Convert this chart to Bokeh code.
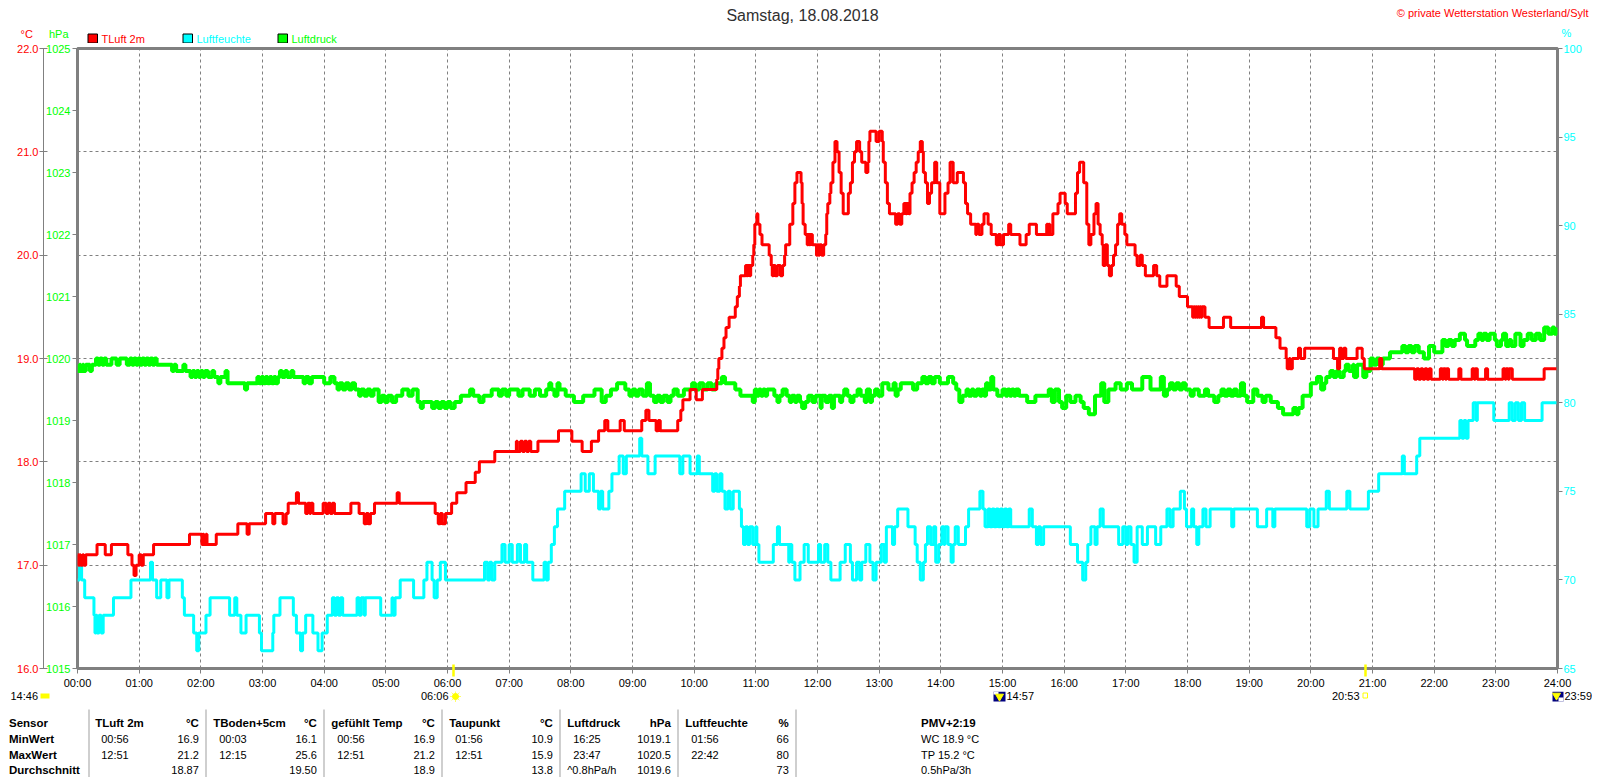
from bokeh.core.properties import value
from bokeh.embed import file_html
from bokeh.layouts import column
from bokeh.models import FixedTicker, Grid, LinearAxis, Range1d, PrintfTickFormatter
from bokeh.plotting import figure
from bokeh.resources import INLINE

TITLE = "Samstag, 18.08.2018"
COPYRIGHT = "\u00a9 private Wetterstation Westerland/Sylt"
HOUR_LABELS = ["%02d:00" % h for h in range(25)]
TEMP_TICKS = [16, 17, 18, 19, 20, 21, 22]
HPA_TICKS = [1015, 1016, 1017, 1018, 1019, 1020, 1021, 1022, 1023, 1024, 1025]
HUM_TICKS = [65, 70, 75, 80, 85, 90, 95, 100]
SUN_MINUTES = [366, 1253]

# (minute of day, value) at each change of the reading
tluft = [
 (0,17.1),(1,17.0),(2,17.1),(3,17.0),(5,17.1),(6,17.0),(8,17.1),(19,17.2),(27,17.1),(33,17.2),(49,17.1),(53,17.0),
 (55,16.9),(57,17.0),(60,17.1),(62,17.0),(64,17.1),(74,17.2),(109,17.3),(121,17.2),(122,17.3),(123,17.2),(125,17.3),
 (126,17.2),(135,17.3),(156,17.4),(165,17.3),(167,17.4),(183,17.5),(190,17.4),(192,17.5),(200,17.4),(203,17.5),
 (205,17.6),(213,17.7),(215,17.6),(222,17.5),(224,17.6),(226,17.5),(227,17.6),(229,17.5),(239,17.6),(242,17.5),
 (244,17.6),(246,17.5),(248,17.6),(250,17.5),(266,17.6),(274,17.5),(279,17.4),(281,17.5),(283,17.4),(285,17.5),
 (289,17.6),(311,17.7),(313,17.6),(348,17.5),(351,17.4),(353,17.5),(355,17.4),(358,17.5),(364,17.6),(369,17.7),
 (378,17.8),(387,17.9),(391,18.0),(406,18.1),(427,18.2),(428,18.1),(431,18.2),(433,18.1),(435,18.2),(437,18.1),
 (439,18.2),(441,18.1),(448,18.2),(468,18.3),(481,18.2),(491,18.1),(500,18.2),(507,18.3),(513,18.4),(516,18.3),
 (528,18.4),(532,18.3),(549,18.4),(553,18.5),(556,18.4),(563,18.3),(565,18.4),(567,18.3),(584,18.4),(587,18.5),
 (589,18.6),(596,18.7),(602,18.6),(608,18.7),(622,18.8),(623,18.9),(624,19.0),(627,19.1),(629,19.2),(631,19.3),
 (634,19.4),(640,19.5),(642,19.6),(644,19.7),(645,19.8),(650,19.9),(651,19.8),(652,19.9),(654,19.8),(655,19.9),
 (657,20.0),(658,20.1),(659,20.3),(661,20.4),(662,20.3),(664,20.2),(666,20.1),(673,20.0),(675,19.9),(676,19.8),
 (677,19.9),(679,19.8),(681,19.9),(684,19.8),(686,19.9),(688,20.0),(689,20.1),(693,20.3),(696,20.5),(698,20.7),
 (700,20.8),(704,20.7),(705,20.5),(706,20.3),(708,20.2),(710,20.1),(711,20.2),(712,20.1),(713,20.2),(715,20.1),
 (719,20.0),(720,20.1),(721,20.0),(722,20.1),(724,20.0),(726,20.1),(728,20.2),(729,20.4),(730,20.5),(732,20.6),
 (733,20.7),(735,20.9),(737,21.1),(739,21.0),(741,20.8),(743,20.6),(745,20.4),(750,20.6),(752,20.7),(754,20.9),
 (756,21.0),(758,21.1),(761,21.0),(763,20.9),(767,20.8),(769,20.9),(770,21.1),(771,21.2),(777,21.1),(780,21.2),
 (783,21.1),(784,20.9),(786,20.7),(788,20.5),(790,20.4),(796,20.3),(798,20.4),(800,20.3),(802,20.4),(804,20.5),
 (806,20.4),(807,20.5),(809,20.4),(810,20.6),(812,20.7),(814,20.8),(816,20.9),(818,21.0),(820,21.1),(822,21.0),
 (823,20.8),(825,20.7),(827,20.5),(829,20.6),(831,20.7),(834,20.9),(836,20.7),(839,20.4),(844,20.6),(847,20.7),
 (849,20.9),(852,20.7),(856,20.8),(862,20.7),(864,20.5),(866,20.4),(869,20.3),(874,20.2),(875,20.3),(877,20.2),
 (880,20.3),(882,20.4),(886,20.3),(889,20.2),(894,20.1),(896,20.2),(898,20.1),(901,20.2),(906,20.3),(908,20.2),
 (917,20.1),(923,20.2),(926,20.3),(933,20.2),(943,20.3),(944,20.2),(945,20.3),(946,20.2),(949,20.4),(954,20.5),
 (956,20.6),(961,20.5),(963,20.4),(971,20.6),(973,20.8),(975,20.9),(979,20.7),(982,20.3),(984,20.1),(986,20.2),
 (989,20.4),(991,20.5),(993,20.3),(995,20.2),(997,20.1),(998,19.9),(1000,20.1),(1002,19.9),(1004,19.8),(1006,19.9),
 (1008,20.0),(1010,20.1),(1012,20.3),(1014,20.4),(1016,20.3),(1019,20.2),(1021,20.1),(1029,20.0),(1031,19.9),
 (1034,20.0),(1036,19.9),(1039,19.8),(1047,19.9),(1050,19.8),(1053,19.7),(1060,19.8),(1069,19.7),(1072,19.6),
 (1080,19.5),(1085,19.4),(1086,19.5),(1087,19.4),(1088,19.5),(1089,19.4),(1090,19.5),(1091,19.4),(1092,19.5),
 (1093,19.4),(1094,19.5),(1097,19.4),(1101,19.3),(1115,19.4),(1122,19.3),(1152,19.4),(1154,19.3),(1166,19.2),
 (1170,19.1),(1176,19.0),(1177,18.9),(1179,19.0),(1180,18.9),(1182,19.0),(1188,19.1),(1190,19.0),(1194,19.1),
 (1222,19.0),(1226,18.9),(1228,19.1),(1230,19.0),(1232,19.1),(1234,19.0),(1245,19.1),(1250,19.0),(1252,18.9),
 (1267,19.0),(1269,18.9),(1301,18.8),(1303,18.9),(1305,18.8),(1307,18.9),(1309,18.8),(1311,18.9),(1313,18.8),
 (1315,18.9),(1317,18.8),(1326,18.9),(1328,18.8),(1329,18.9),(1331,18.8),(1332,18.9),(1334,18.8),(1344,18.9),
 (1346,18.8),(1357,18.9),(1359,18.8),(1360,18.9),(1362,18.8),(1370,18.9),(1372,18.8),(1387,18.9),(1389,18.8),
 (1390,18.9),(1392,18.8),(1393,18.9),(1396,18.8),(1427,18.9),(1439,18.9),
]

feuchte = [
 (0,70),(2,71),(4,70),(7,69),(16,68),(17,67),(18,68),(19,67),(21,68),(23,67),(25,68),(35,69),(52,70),(71,71),(73,70),
 (77,69),(81,70),(87,69),(89,70),(102,69),(104,68),(113,67),(116,66),(118,67),(125,68),(129,69),(148,68),(153,69),
 (155,68),(159,67),(164,68),(177,67),(179,66),(190,67),(191,68),(197,69),(210,68),(213,67),(217,66),(219,67),
 (222,68),(229,67),(234,66),(238,67),(243,68),(248,69),(250,68),(252,69),(254,68),(256,69),(258,68),(261,68),
 (272,69),(274,68),(276,69),(279,68),(280,69),(295,68),(306,69),(307,68),(309,69),(314,70),(327,69),(337,70),
 (340,71),(345,70),(347,69),(350,70),(353,71),(358,70),(396,71),(399,70),(401,71),(403,70),(406,71),(413,72),
 (416,71),(420,72),(423,71),(428,72),(431,71),(435,72),(437,71),(443,70),(454,71),(456,70),(458,71),(461,72),
 (464,73),(467,74),(474,75),(490,76),(494,75),(498,76),(502,75),(507,74),(509,75),(511,74),(517,75),(520,76),
 (527,77),(531,76),(534,77),(547,78),(549,77),(555,76),(562,77),(586,76),(589,77),(596,76),(603,77),(605,76),
 (618,75),(620,76),(622,75),(625,76),(627,75),(630,74),(633,75),(635,74),(638,75),(644,74),(646,73),(648,72),
 (650,73),(652,72),(654,73),(657,72),(660,73),(661,72),(663,71),(677,72),(681,73),(683,72),(692,71),(693,72),
 (695,71),(698,70),(703,71),(707,72),(711,71),(721,72),(723,71),(727,72),(730,71),(733,70),(742,71),(747,72),
 (752,71),(754,70),(758,71),(761,70),(763,71),(767,72),(771,71),(774,70),(777,71),(782,72),(785,71),(787,73),
 (793,72),(795,73),(798,74),(808,73),(815,72),(817,71),(820,70),(823,71),(825,72),(827,73),(830,72),(833,73),
 (835,71),(838,72),(841,73),(843,72),(844,73),(847,72),(850,71),(852,72),(854,73),(857,72),(864,73),(867,74),
 (878,75),(881,74),(883,73),(886,74),(888,73),(890,74),(892,73),(894,74),(896,73),(898,74),(900,73),(902,74),
 (904,73),(906,74),(908,73),(926,74),(929,73),(933,72),(935,73),(937,72),(940,73),(966,72),(973,71),(978,70),
 (981,71),(983,72),(986,73),(990,72),(992,73),(995,74),(998,73),(1013,72),(1017,73),(1020,72),(1022,73),(1025,72),
 (1028,71),(1031,73),(1036,72),(1041,73),(1049,72),(1054,73),(1060,74),(1063,73),(1066,74),(1073,75),(1077,74),
 (1079,73),(1084,74),(1086,73),(1089,72),(1091,73),(1095,74),(1098,73),(1102,74),(1123,73),(1125,74),(1148,73),
 (1157,74),(1163,73),(1165,74),(1196,73),(1199,74),(1203,73),(1207,74),(1215,75),(1218,74),(1235,75),(1238,74),
 (1256,75),(1266,76),(1289,77),(1291,76),(1303,77),(1306,78),(1345,79),(1347,78),(1349,79),(1351,78),(1353,79),
 (1358,80),(1361,79),(1362,80),(1378,79),(1393,80),(1396,79),(1399,80),(1402,79),(1405,80),(1408,79),(1425,80),
 (1439,80),
]

druck = [
 (0,1019.8),(2,1019.9),(3,1019.8),(5,1019.9),(6,1019.8),(8,1019.9),(12,1019.8),(14,1019.9),(18,1020.0),(20,1019.9),
 (22,1020.0),(24,1019.9),(26,1020.0),(28,1019.9),(33,1020.0),(38,1019.9),(41,1020.0),(48,1019.9),(51,1020.0),
 (53,1019.9),(55,1020.0),(57,1019.9),(59,1020.0),(61,1019.9),(63,1020.0),(65,1019.9),(67,1020.0),(69,1019.9),
 (71,1020.0),(73,1019.9),(75,1020.0),(77,1019.9),(92,1019.8),(94,1019.9),(96,1019.8),(103,1019.9),(105,1019.8),
 (110,1019.7),(112,1019.8),(114,1019.7),(116,1019.8),(118,1019.7),(120,1019.8),(122,1019.7),(124,1019.8),(127,1019.7),
 (131,1019.8),(133,1019.7),(137,1019.6),(139,1019.7),(144,1019.8),(146,1019.6),(163,1019.5),(165,1019.6),(175,1019.7),
 (177,1019.6),(179,1019.7),(181,1019.6),(183,1019.7),(185,1019.6),(187,1019.7),(189,1019.6),(191,1019.7),(193,1019.6),
 (195,1019.7),(197,1019.8),(199,1019.7),(202,1019.8),(204,1019.7),(208,1019.8),(210,1019.7),(220,1019.6),(222,1019.7),
 (225,1019.6),(228,1019.7),(232,1019.7),(240,1019.6),(246,1019.7),(250,1019.6),(253,1019.5),(255,1019.6),(258,1019.5),
 (261,1019.6),(264,1019.5),(267,1019.6),(270,1019.5),(274,1019.4),(276,1019.5),(279,1019.4),(282,1019.5),(285,1019.4),
 (288,1019.5),(293,1019.3),(296,1019.4),(299,1019.3),(302,1019.4),(306,1019.3),(310,1019.4),(316,1019.5),(322,1019.4),
 (326,1019.5),(331,1019.3),(334,1019.2),(336,1019.3),(345,1019.2),(348,1019.3),(351,1019.2),(354,1019.3),(357,1019.2),
 (360,1019.3),(363,1019.2),(367,1019.3),(373,1019.4),(382,1019.5),(385,1019.4),(391,1019.3),(395,1019.4),(403,1019.5),
 (410,1019.4),(413,1019.5),(417,1019.4),(420,1019.5),(429,1019.4),(433,1019.5),(440,1019.4),(445,1019.5),(450,1019.4),
 (456,1019.5),(459,1019.6),(461,1019.5),(464,1019.4),(467,1019.6),(469,1019.5),(475,1019.4),(483,1019.3),(492,1019.4),
 (503,1019.5),(510,1019.3),(514,1019.4),(519,1019.5),(525,1019.6),(533,1019.5),(537,1019.4),(540,1019.5),(543,1019.4),
 (546,1019.5),(550,1019.4),(554,1019.6),(557,1019.4),(561,1019.3),(564,1019.4),(567,1019.3),(570,1019.4),(574,1019.3),
 (577,1019.4),(580,1019.5),(584,1019.4),(590,1019.5),(598,1019.6),(601,1019.5),(605,1019.6),(609,1019.5),(613,1019.6),
 (617,1019.5),(621,1019.6),(627,1019.7),(630,1019.6),(640,1019.5),(645,1019.4),(657,1019.3),(659,1019.5),(661,1019.4),
 (663,1019.5),(665,1019.4),(667,1019.5),(669,1019.4),(671,1019.5),(678,1019.4),(681,1019.3),(683,1019.4),(686,1019.5),
 (690,1019.4),(693,1019.3),(695,1019.4),(698,1019.3),(700,1019.4),(703,1019.3),(705,1019.2),(708,1019.3),(711,1019.4),
 (715,1019.3),(718,1019.4),(723,1019.2),(724,1019.4),(728,1019.3),(731,1019.4),(734,1019.2),(736,1019.4),(742,1019.3),
 (744,1019.4),(746,1019.5),(749,1019.4),(752,1019.3),(755,1019.4),(759,1019.5),(762,1019.4),(766,1019.3),(768,1019.5),
 (771,1019.3),(773,1019.4),(776,1019.5),(779,1019.4),(783,1019.6),(789,1019.5),(794,1019.6),(796,1019.4),(798,1019.5),
 (801,1019.6),(813,1019.5),(817,1019.6),(822,1019.7),(825,1019.6),(828,1019.7),(831,1019.6),(834,1019.7),(839,1019.6),
 (847,1019.7),(852,1019.6),(855,1019.5),(858,1019.3),(861,1019.4),(865,1019.5),(867,1019.4),(870,1019.5),(872,1019.4),
 (875,1019.5),(878,1019.4),(880,1019.5),(882,1019.4),(884,1019.6),(886,1019.5),(889,1019.7),(891,1019.5),(895,1019.4),
 (900,1019.5),(903,1019.4),(905,1019.5),(907,1019.4),(909,1019.5),(911,1019.4),(913,1019.5),(916,1019.4),(924,1019.3),
 (932,1019.4),(945,1019.5),(948,1019.3),(951,1019.5),(955,1019.3),(958,1019.2),(962,1019.4),(966,1019.3),(971,1019.4),
 (976,1019.3),(979,1019.2),(984,1019.1),(990,1019.4),(996,1019.6),(999,1019.3),(1003,1019.5),(1010,1019.6),(1015,1019.5),
 (1021,1019.6),(1026,1019.5),(1036,1019.7),(1044,1019.5),(1054,1019.7),(1057,1019.4),(1060,1019.5),(1063,1019.6),
 (1066,1019.5),(1069,1019.6),(1072,1019.5),(1075,1019.6),(1078,1019.5),(1083,1019.4),(1086,1019.5),(1091,1019.4),
 (1097,1019.5),(1100,1019.4),(1106,1019.3),(1110,1019.4),(1113,1019.5),(1116,1019.4),(1119,1019.5),(1122,1019.4),
 (1125,1019.5),(1128,1019.4),(1132,1019.6),(1135,1019.4),(1138,1019.3),(1144,1019.5),(1148,1019.4),(1153,1019.3),
 (1156,1019.4),(1161,1019.3),(1168,1019.2),(1173,1019.1),(1183,1019.2),(1186,1019.1),(1188,1019.2),(1192,1019.4),
 (1200,1019.6),(1206,1019.7),(1210,1019.5),(1213,1019.6),(1215,1019.7),(1219,1019.8),(1222,1019.7),(1225,1019.8),
 (1228,1019.7),(1232,1019.8),(1234,1019.9),(1237,1019.8),(1241,1019.9),(1242,1019.7),(1245,1019.9),(1251,1019.7),
 (1254,1019.8),(1258,1020.0),(1261,1019.9),(1264,1020.0),(1267,1019.9),(1270,1020.0),(1277,1020.1),(1289,1020.2),
 (1292,1020.1),(1295,1020.2),(1298,1020.1),(1301,1020.2),(1305,1020.1),(1310,1020.0),(1315,1020.2),(1320,1020.1),
 (1328,1020.3),(1331,1020.2),(1334,1020.3),(1337,1020.2),(1340,1020.3),(1345,1020.4),(1350,1020.3),(1352,1020.2),
 (1360,1020.3),(1363,1020.4),(1366,1020.3),(1368,1020.4),(1371,1020.3),(1374,1020.4),(1379,1020.3),(1381,1020.2),
 (1385,1020.3),(1387,1020.4),(1390,1020.2),(1393,1020.3),(1395,1020.2),(1399,1020.4),(1404,1020.2),(1407,1020.3),
 (1411,1020.4),(1415,1020.3),(1419,1020.4),(1423,1020.3),(1427,1020.5),(1431,1020.4),(1435,1020.5),(1437,1020.4),
 (1439,1020.5),
]

stat_sensor = ["Sensor", "MinWert", "MaxWert", "Durchschnitt"]
stat_columns = [
 ("TLuft 2m", "\u00b0C", "00:56", "16.9", "12:51", "21.2", "", "18.87"),
 ("TBoden+5cm", "\u00b0C", "00:03", "16.1", "12:15", "25.6", "", "19.50"),
 ("gef\u00fchlt Temp", "\u00b0C", "00:56", "16.9", "12:51", "21.2", "", "18.9"),
 ("Taupunkt", "\u00b0C", "01:56", "10.9", "12:51", "15.9", "", "13.8"),
 ("Luftdruck", "hPa", "16:25", "1019.1", "23:47", "1020.5", "^0.8hPa/h", "1019.6"),
 ("Luftfeuchte", "%", "01:56", "66", "22:42", "80", "", "73"),
]
pmv_lines = ["PMV+2:19", "WC 18.9 \u00b0C", "TP 15.2 \u00b0C", "0.5hPa/3h"]

RED, GREEN, CYAN, GRID, SEP = "#FF0000", "#00FF00", "#00FFFF", "#808080", "#A0A0A0"
FONT = "Liberation Sans"
PAGE_W = 1592
TOP_H = 43        # page rows of the header strip
MAIN_BOTTOM = 690 # page row where the main figure ends


def strip(y0, y1):
    """A figure whose frame fills it, with data coordinates equal to page pixels."""
    s = figure(frame_width=PAGE_W, frame_height=y1 - y0, x_range=Range1d(0, PAGE_W), y_range=Range1d(y1, y0),
               output_backend="svg", toolbar_location=None, x_axis_location=None, y_axis_location=None,
               min_border=0, outline_line_color=None, background_fill_color=None, border_fill_color=None,
               frame_align=False)
    s.grid.visible = False
    return s


def label(f, x, y, text, color="#000000", align="left", size="11px", bold=False, font=FONT):
    f.text(x=[x], y=[y], text=[text], text_color=color, text_align=align, text_baseline="middle",
           text_font=value(font), text_font_size=size, text_font_style="bold" if bold else "normal")


def box(f, x0, y0, x1, y1, fill, line=None):
    f.quad(left=[x0], right=[x1], top=[y0], bottom=[y1], fill_color=fill, line_color=line, line_width=1)


# ---------------- header strip
top = strip(0, TOP_H)
label(top, 802, 15, TITLE, "#303030", "center", "16px")
label(top, 1588, 12, COPYRIGHT, RED, "right")
label(top, 20, 33, "\u00b0C", RED)
label(top, 48.5, 33, "hPa", GREEN)
label(top, 1561, 32, "%", CYAN)
for bx, tx, name, col in [(87.5, 101, "TLuft 2m", RED), (182.5, 196, "Luftfeuchte", CYAN), (277.5, 291, "Luftdruck", GREEN)]:
    box(top, bx, 33.5, bx + 9.5, 42.5, col, "#000000")
    label(top, tx, 38, name, col)

# ---------------- main chart
p = figure(frame_width=1480, frame_height=620, x_range=Range1d(0, 1440), y_range=Range1d(16, 22),
           output_backend="svg", toolbar_location=None, y_axis_location=None, x_axis_location=None,
           min_border_left=77, min_border_right=PAGE_W - 77 - 1480, min_border_top=48 - TOP_H,
           min_border_bottom=MAIN_BOTTOM - 668, frame_align=False,
           background_fill_color="white", border_fill_color="white", outline_line_color=GRID,
           outline_line_width=3)
p.grid.visible = False
p.extra_y_ranges = {"hpa": Range1d(1015, 1025), "pct": Range1d(65, 100)}


def style(ax, color):
    ax.major_label_text_color = color
    ax.major_label_text_font = FONT
    ax.major_label_text_font_size = "11px"
    ax.major_tick_line_color = GRID
    ax.major_tick_line_width = 1
    ax.minor_tick_line_color = None
    ax.major_tick_in = 0
    ax.major_tick_out = 5
    ax.axis_line_color = None
    ax.major_label_standoff = 1


hpa_axis = LinearAxis(y_range_name="hpa", ticker=FixedTicker(ticks=HPA_TICKS))
style(hpa_axis, GREEN)
hpa_axis.major_label_standoff = 2
p.add_layout(hpa_axis, "left")

temp_axis = LinearAxis(ticker=FixedTicker(ticks=TEMP_TICKS), formatter=PrintfTickFormatter(format="%.1f"))
style(temp_axis, RED)
temp_axis.major_tick_in = 4
temp_axis.major_tick_out = 4
temp_axis.axis_line_color = GRID
temp_axis.axis_line_width = 1
p.add_layout(temp_axis, "left")

hum_axis = LinearAxis(y_range_name="pct", ticker=FixedTicker(ticks=HUM_TICKS))
style(hum_axis, CYAN)
p.add_layout(hum_axis, "right")

hour_ticks = [60 * i for i in range(25)]
blank = {60 * i: "" for i in range(25)}
blank.update({m: "" for m in SUN_MINUTES})

# hour ticks next to the frame, then the yellow sunrise/sunset marks, then the hour labels
tick_axis = LinearAxis(ticker=FixedTicker(ticks=hour_ticks), major_label_overrides=blank)
style(tick_axis, "#000000")
tick_axis.major_label_standoff = 0
tick_axis.major_label_text_font_size = "0px"
p.add_layout(tick_axis, "below")

sun_axis = LinearAxis(ticker=FixedTicker(ticks=SUN_MINUTES), major_label_overrides=blank)
style(sun_axis, "#000000")
sun_axis.major_tick_line_color = "#FFFF00"
sun_axis.major_tick_line_width = 2.5
sun_axis.major_tick_in = 9
sun_axis.major_tick_out = 3
sun_axis.major_label_standoff = 0
sun_axis.major_label_text_font_size = "0px"
p.add_layout(sun_axis, "below")

hour_axis = LinearAxis(ticker=FixedTicker(ticks=hour_ticks),
                       major_label_overrides={60 * i: HOUR_LABELS[i] for i in range(25)})
style(hour_axis, "#000000")
hour_axis.major_tick_line_color = None
hour_axis.major_tick_out = 0
hour_axis.major_label_standoff = 0
p.add_layout(hour_axis, "below")

p.add_layout(Grid(dimension=0, ticker=FixedTicker(ticks=hour_ticks[1:-1]), grid_line_color=GRID, grid_line_dash="3 3"))
p.add_layout(Grid(dimension=1, ticker=FixedTicker(ticks=TEMP_TICKS[1:-1]), grid_line_color=GRID, grid_line_dash="3 3"))


def draw(points, color, width=3, **kw):
    xs = [a for a, _ in points]
    ys = [b for _, b in points]
    p.step(xs, ys, mode="after", line_color=color, line_width=width, **kw)


draw(feuchte, CYAN, y_range_name="pct")
draw(druck, GREEN, width=4, y_range_name="hpa")
draw(tluft, RED)

# ---------------- statistics strip
b = strip(MAIN_BOTTOM, 776)
label(b, 10, 694, "14:46")
box(b, 40, 692, 49, 697, "#FFFF00")
label(b, 420.5, 694, "06:06")
b.scatter([455], [695], marker="asterisk", size=11, line_color="#FFFF66", line_width=1)
b.scatter([455], [695], marker="circle", size=6, color="#FFFF00")
box(b, 993, 690, 1005, 700, "#000080")
box(b, 993, 690, 998, 693, "#FFFFFF")
b.scatter([999], [695], marker="inverted_triangle", size=8, color="#FFFF00")
label(b, 1006, 694, "14:57")
label(b, 1331.5, 694, "20:53")
box(b, 1362.5, 691.5, 1367, 696.5, "#FFFFFF", "#FFFF00")
box(b, 1552, 690, 1563, 700, "#000080")
box(b, 1558, 696, 1563, 700, "#FFFFFF")
b.scatter([1556], [694], marker="inverted_triangle", size=8, color="#FFFF00")
label(b, 1564, 694, "23:59")

ROWS = [721.5, 737.5, 753, 768]
for sx in [88.5, 205.5, 323.5, 441.5, 559.5, 677.5, 795.5]:
    box(b, sx - 0.5, 708, sx + 0.5, 776, SEP)
for y, t in zip(ROWS, stat_sensor):
    label(b, 8.5, y, t, bold=True, size="11.5px")
for i, c in enumerate(stat_columns):
    left = 94.7 + i * 118
    right = 198.3 + i * 118
    label(b, left, ROWS[0], c[0], bold=True, size="11.5px")
    label(b, right, ROWS[0], c[1], align="right", bold=True, size="11.5px")
    label(b, left + 6, ROWS[1], c[2])
    label(b, right, ROWS[1], c[3], align="right")
    label(b, left + 6, ROWS[2], c[4])
    label(b, right, ROWS[2], c[5], align="right")
    if c[6]:
        label(b, left, ROWS[3], c[6])
    label(b, right, ROWS[3], c[7], align="right")
for y, t, bold_row in zip(ROWS, pmv_lines, [True, False, False, False]):
    label(b, 920.5, y, t, bold=bold_row, size="11.5px" if bold_row else "11px")

open("out.html", "w").write(file_html(column(top, p, b, spacing=0), INLINE))
